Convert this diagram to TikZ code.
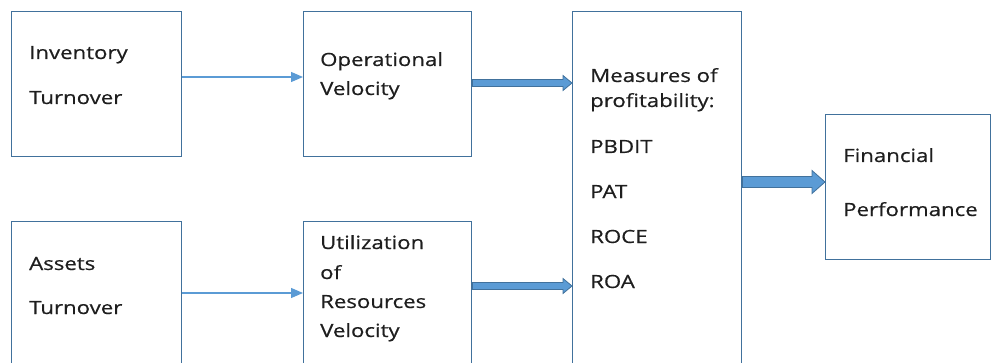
\documentclass[tikz,border=0pt]{standalone}
\usepackage{fontspec}
\setmainfont{Open Sans}[FakeStretch=1.22,FakeBold=0.6]
\usetikzlibrary{arrows.meta,calc}
\definecolor{boxline}{HTML}{41719C}
\definecolor{arrblue}{HTML}{5B9BD5}
\definecolor{txt}{HTML}{1E1E1E}
\tikzset{
  box/.style={draw=boxline, line width=1.4pt, anchor=north west, inner sep=0pt},
  lbl/.style={anchor=base west, inner sep=0pt, text=txt, font=\fontsize{18.2}{22}\selectfont},
  thinarrow/.style={draw=arrblue, line width=1.3pt, -{Triangle[length=12pt,width=10pt]}},
  blockarrow/.style={fill=arrblue, draw=boxline, line width=0.8pt, line join=miter},
}
% #1 start, #2 end, #3 shaft half height, #4 head half height, #5 head length
\newcommand\blockarr[5]{%
  \path[blockarrow] let \p1=(#1), \p2=(#2) in
    (\x1,\y1+#3) -- (\x2-#5,\y1+#3) -- (\x2-#5,\y1+#4) -- (\x2,\y1) --
    (\x2-#5,\y1-#4) -- (\x2-#5,\y1-#3) -- (\x1,\y1-#3) -- cycle;}
\begin{document}
\begin{tikzpicture}[x=1pt,y=1pt]
\useasboundingbox (0,0) rectangle (991,362);
\clip (0,0) rectangle (991,362);
% boxes
\node[box, minimum width=170pt, minimum height=145pt] (inv) at (11,351) {};
\node[box, minimum width=168pt, minimum height=145pt] (op) at (303,351) {};
\node[box, minimum width=170pt, minimum height=160pt] (ast) at (11,141) {};
\node[box, minimum width=168pt, minimum height=160pt] (util) at (303,141) {};
\node[box, minimum width=169pt, minimum height=370pt] (meas) at (572,351) {};
\node[box, minimum width=165pt, minimum height=145pt] (fin) at (825,248) {};
% labels
\node[lbl] (t1a) at (29,303) {Inventory};
\node[lbl] (t1b) at (29,258) {Turnover};
\node[lbl] (t2a) at (320,296) {Operational};
\node[lbl] (t2b) at (320,267) {Velocity};
\node[lbl] (t3a) at (29,92) {Assets};
\node[lbl] (t3b) at (29,48) {Turnover};
\node[lbl] (t4a) at (320,113) {Utilization};
\node[lbl] (t4b) at (320,83) {of};
\node[lbl] (t4c) at (320,54) {Resources};
\node[lbl] (t4d) at (320,25) {Velocity};
\node[lbl] (t5a) at (590,280) {Measures of};
\node[lbl] (t5b) at (590,255) {profitability:};
\node[lbl] (t5c) at (590,209) {PBDIT};
\node[lbl] (t5d) at (590,164) {PAT};
\node[lbl] (t5e) at (590,119) {ROCE};
\node[lbl] (t5f) at (590,74) {ROA};
\node[lbl] (t6a) at (843,200) {Financial};
\node[lbl] (t6b) at (843,146) {Performance};
% connectors
\coordinate (ya) at (0,285);
\coordinate (yb) at (0,69);
\coordinate (yc) at (0,279);
\coordinate (yd) at (0,76);
\coordinate (ye) at (0,180);
\draw[thinarrow] (inv.east |- ya) -- (op.west |- ya);
\draw[thinarrow] (ast.east |- yb) -- (util.west |- yb);
\blockarr{op.east |- yc}{meas.west |- yc}{3.5}{7.5}{9}
\blockarr{util.east |- yd}{meas.west |- yd}{3.5}{7.5}{9}
\blockarr{meas.east |- ye}{fin.west |- ye}{5.5}{11.5}{13}
\end{tikzpicture}
\end{document}
